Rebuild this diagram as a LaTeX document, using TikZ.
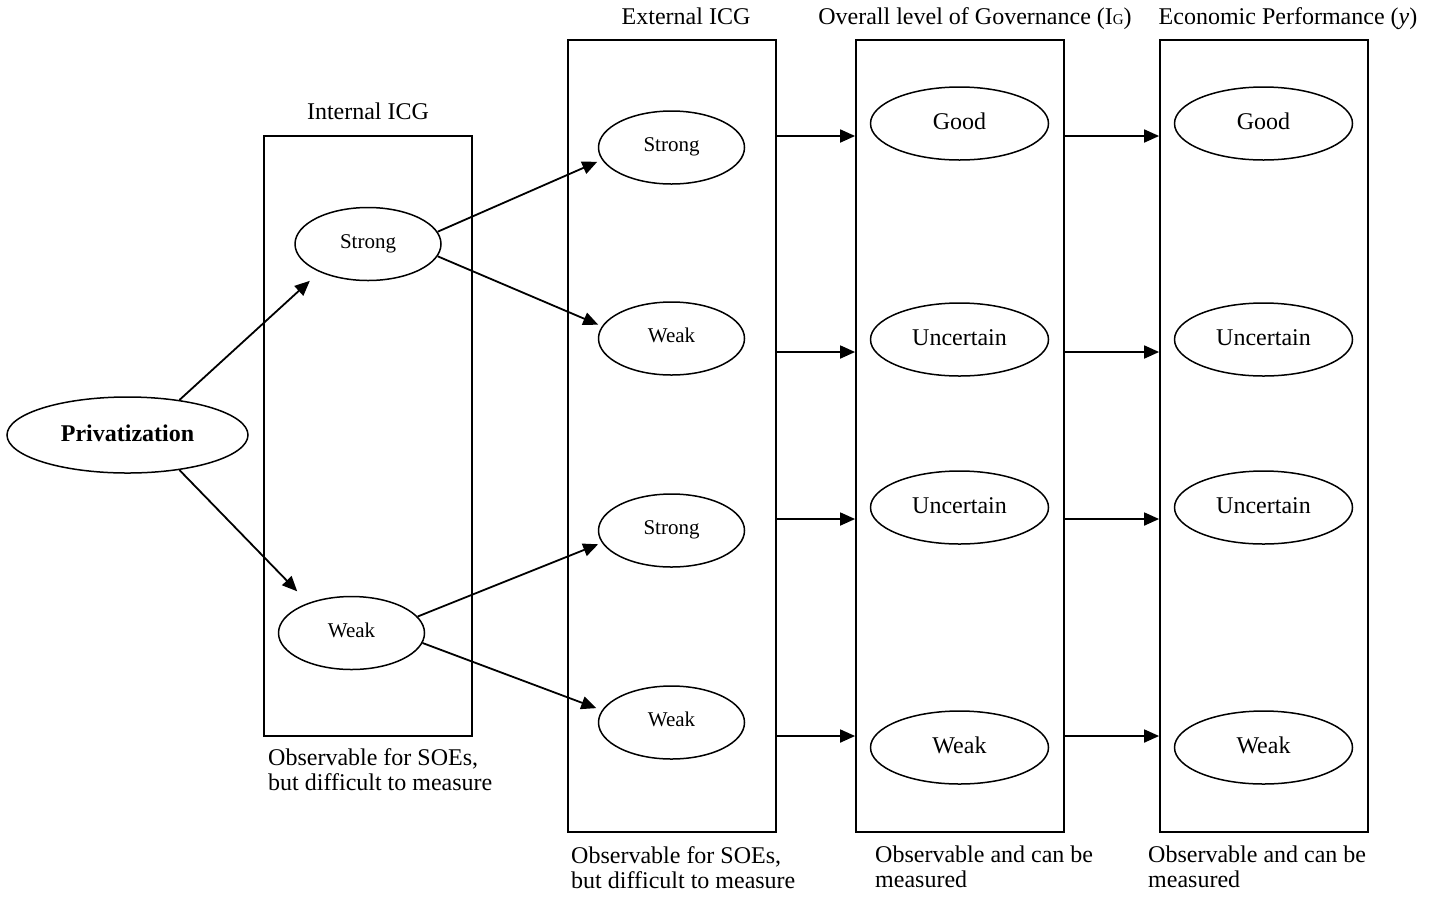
\documentclass[tikz,border=0pt]{standalone}
\usepackage{fontspec}
\setmainfont{Liberation Serif}
\usetikzlibrary{shapes.geometric,arrows.meta,calc}
\begin{document}
\begin{tikzpicture}[x=1pt,y=-1pt,
  box/.style={draw,line width=1.8pt,minimum width=208pt,inner sep=0pt},
  ell/.style={draw,ellipse,line width=1.5pt,inner sep=0pt},
  smallell/.style={ell,minimum width=146pt,minimum height=73pt,font=\fontsize{21}{25}\selectfont,text height=14pt,text depth=6pt},
  bigell/.style={ell,minimum width=178pt,minimum height=73pt,font=\fontsize{24}{28}\selectfont,text height=16pt,text depth=5pt},
  privell/.style={ell,minimum width=241pt,minimum height=76pt,font=\fontsize{24}{28}\selectfont\bfseries,text height=17pt,text depth=4pt},
  toplabel/.style={anchor=base,inner sep=0pt,font=\fontsize{24}{28}\selectfont},
  note/.style={anchor=north west,inner sep=0pt,align=left,font=\fontsize{24}{25}\selectfont},
  arr/.style={line width=1.8pt,-{Triangle[length=15pt,width=13pt]}}]
\useasboundingbox (0,0) rectangle (1431,898);

% boxes
\node[box,minimum height=600pt] (inbox) at (368,436) {};
\node[box,minimum height=792pt] (extbox) at (672,436) {};
\node[box,minimum height=792pt] (ovbox) at (960,436) {};
\node[box,minimum height=792pt] (ecbox) at (1264,436) {};

% top labels
\node[toplabel] (lin) at (368,119) {Internal ICG};
\node[toplabel] (lext) at (686,24) {External ICG};
\node[toplabel] (lov) at (975,24) {Overall level of Governance (I{\fontsize{15}{15}\selectfont G})};
\node[toplabel] (lec) at (1288,24) {Economic Performance (\textit{y})};

% ellipses
\node[privell] (priv) at (127.5,435) {Privatization};
\node[smallell] (istrong) at (368,244) {Strong};
\node[smallell] (iweak) at (351.5,633) {Weak};
\node[smallell] (es1) at (671.5,147.5) {Strong};
\node[smallell] (ew1) at (671.5,338.5) {Weak};
\node[smallell] (es2) at (671.5,530.5) {Strong};
\node[smallell] (ew2) at (671.5,722.5) {Weak};
\node[bigell] (og) at (959.5,123.5) {Good};
\node[bigell] (ou1) at (959.5,339.5) {Uncertain};
\node[bigell] (ou2) at (959.5,507.5) {Uncertain};
\node[bigell] (ow) at (959.5,747.5) {Weak};
\node[bigell] (eg) at (1263.5,123.5) {Good};
\node[bigell] (eu1) at (1263.5,339.5) {Uncertain};
\node[bigell] (eu2) at (1263.5,507.5) {Uncertain};
\node[bigell] (ewk) at (1263.5,747.5) {Weak};

% diagonal arrows
\draw[arr,shorten >=13pt] (priv.34) -- (istrong.210);
\draw[arr,shorten >=16pt] (priv.-34) -- (iweak.145);
\draw[arr,shorten >=5pt] (istrong.10) -- (es1.190);
\draw[arr,shorten >=4pt] (istrong.-10) -- (ew1.170);
\draw[arr,shorten >=4pt] (iweak.14) -- (es2.190);
\draw[arr,shorten >=6pt] (iweak.-8) -- (ew2.170);

% horizontal arrows
\coordinate (h1) at ([yshift=-12.5pt]og.center);
\coordinate (h2) at ([yshift=-12.5pt]ou1.center);
\coordinate (h3) at ([yshift=-11.5pt]ou2.center);
\coordinate (h4) at ([yshift=11.5pt]ow.center);
\foreach \h in {h1,h2,h3,h4}{
  \draw[arr] (\h -| extbox.east) -- (\h -| ovbox.west);
  \draw[arr] (\h -| ovbox.east) -- (\h -| ecbox.west);
}

% bottom notes
\node[note] (n1) at (268,748) {Observable for SOEs,\\but difficult to measure};
\node[note] (n2) at (571,846) {Observable for SOEs,\\but difficult to measure};
\node[note] (n3) at (875,846) {Observable and can be\\measured};
\node[note] (n4) at (1148,846) {Observable and can be\\measured};
\end{tikzpicture}
\end{document}
